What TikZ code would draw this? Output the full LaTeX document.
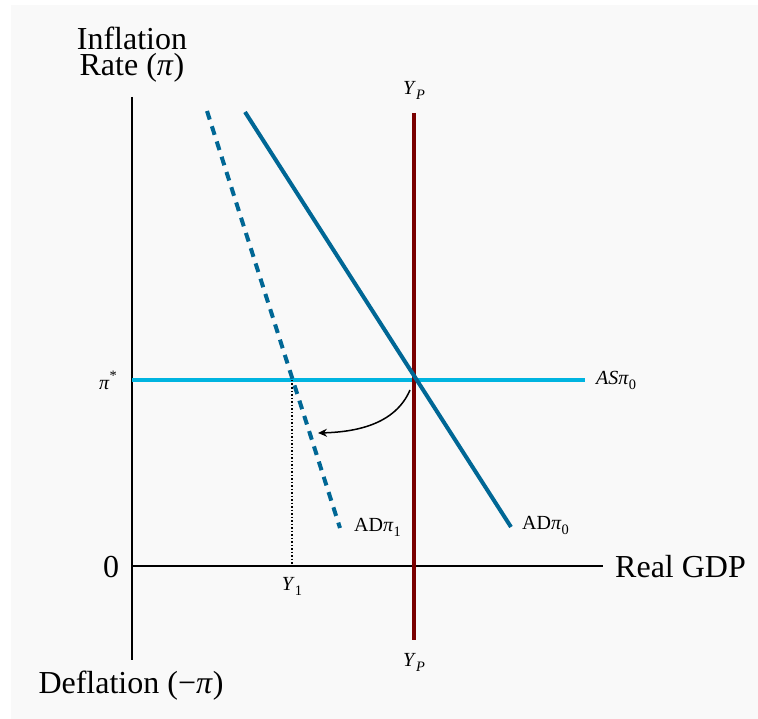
\documentclass[tikz,border=0pt]{standalone}
\usepackage{fontspec}
\setmainfont{Liberation Serif}
\usetikzlibrary{arrows.meta}
\definecolor{bgc}{HTML}{F9F9F9}
\definecolor{adblue}{HTML}{006795}
\definecolor{ascyan}{HTML}{00B4E0}
\definecolor{ypred}{HTML}{7A0000}
\newcommand{\ipi}{\textit{π}}
\newcommand{\sub}[1]{\raisebox{-0.25em}{\scalebox{0.72}{#1}}}
\tikzset{
  biglbl/.style={font=\fontsize{32}{26}\selectfont, inner sep=0pt},
  smalllbl/.style={font=\fontsize{20}{20}\selectfont, inner sep=0pt},
  axis/.style={draw=black, line width=2pt},
  adline/.style={draw=adblue, line width=4pt},
}
\begin{document}
\begin{tikzpicture}[x=1pt,y=-1pt]
\useasboundingbox (0,0) rectangle (758,719);
\fill[bgc] (11,5) rectangle (758,719);
% axes
\coordinate (ytop) at (132,97);
\coordinate (ybot) at (132,660);
\coordinate (origin) at (132,566);
\coordinate (xend) at (603,566);
\draw[axis] (ytop) -- (ybot);
\draw[axis] (origin) -- (xend);
\node[biglbl, align=center, anchor=north] (ylab) at (132,27) {Inflation\\Rate (\ipi)};
\node[biglbl, anchor=base west] (xlab) at (615,577) {Real GDP};
\node[biglbl, anchor=base] (zero) at (111,577) {0};
\node[biglbl, anchor=base] (deflab) at (131,693) {Deflation (−\ipi)};
% AS line
\coordinate (asl) at (132,380);
\coordinate (asr) at (585,380);
\draw[draw=ascyan, line width=4.5pt] (asl) -- (asr);
\node[smalllbl, anchor=west] (aslab) at (596,380) {\textit{AS}\ipi\sub{0}};
\node[smalllbl] (pistar) at (108,380) {\ipi\raisebox{0.45em}{\scalebox{0.72}{*}}};
% Y_P line
\coordinate (ypt) at (414,113);
\coordinate (ypb) at (414,640);
\draw[draw=ypred, line width=4pt] (ypt) -- (ypb);
\node[smalllbl] (yptop) at (414,90) {\textit{Y}\sub{\textit{P}}};
\node[smalllbl] (ypbot) at (414,662) {\textit{Y}\sub{\textit{P}}};
% dotted
\coordinate (d1) at (292,380);
\coordinate (d2) at (292,566);
\draw[line width=1.5pt, dotted] (d1) -- (d2);
\node[smalllbl] (y1lab) at (292,586) {\textit{Y}\sub{1}};
% AD0
\coordinate (ad0a) at (245,112);
\coordinate (ad0b) at (511,527);
\draw[adline] (ad0a) -- (ad0b);
\node[smalllbl, anchor=west] (ad0lab) at (522,525) {AD\ipi\sub{0}};
% AD1
\coordinate (ad1a) at (207,111);
\coordinate (ad1b) at (340,528);
\draw[adline, dash pattern=on 9pt off 7pt] (ad1a) -- (ad1b);
\node[smalllbl, anchor=west] (ad1lab) at (354,527) {AD\ipi\sub{1}};
% arrow
\coordinate (arrs) at (410,390);
\coordinate (arre) at (318,433);
\draw[line width=1.5pt, -{Stealth[length=9pt,width=8pt,inset=3pt]}] (arrs) .. controls (395,425) and (355,432) .. (arre);
\end{tikzpicture}
\end{document}
